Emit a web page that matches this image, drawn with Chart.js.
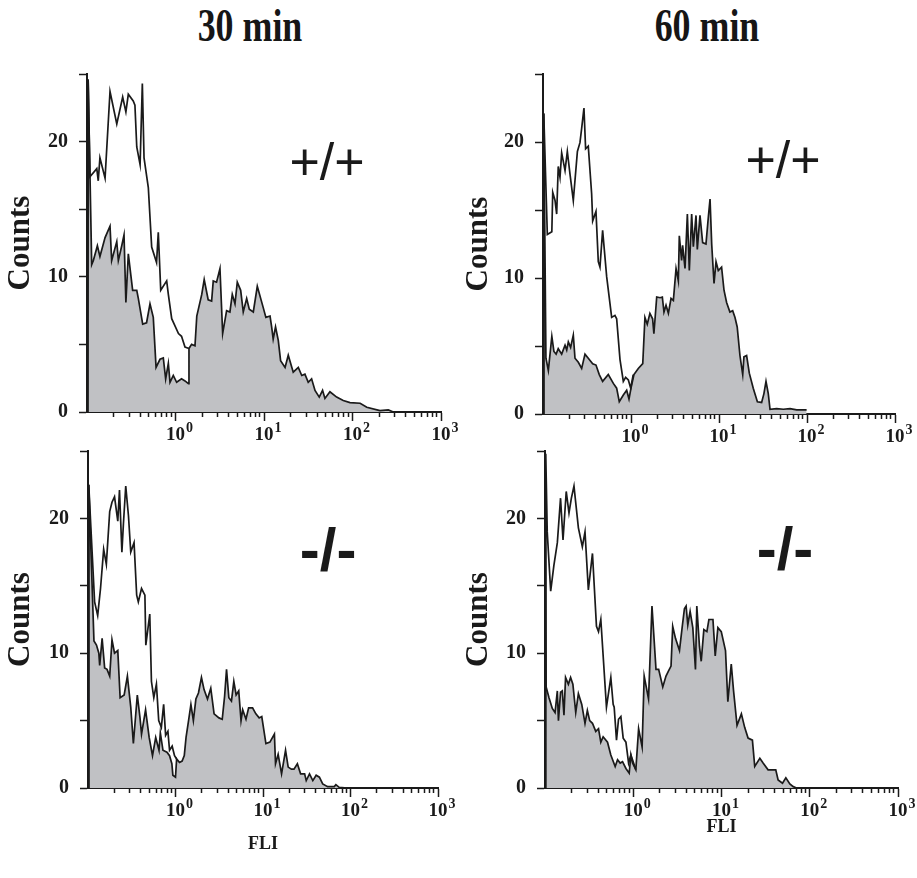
<!DOCTYPE html>
<html><head><meta charset="utf-8">
<script src="https://cdn.jsdelivr.net/npm/chart.js@4.4.1/dist/chart.umd.min.js"></script>
<style>
html,body{margin:0;padding:0;background:#fff;overflow:hidden;}
#wrap{position:relative;width:917px;height:878px;}
canvas{position:absolute;}
.ttl{position:absolute;top:3px;width:200px;text-align:center;font-weight:bold;font-family:'Liberation Serif',serif;font-size:46px;line-height:46px;transform:scaleX(0.78);color:#161616;}
</style></head>
<body><div id="wrap">
<div class="ttl" id="t1" style="left:150px"></div>
<div class="ttl" id="t2" style="left:607px"></div>
<canvas id="c1" width="458" height="452" style="left:0;top:0"></canvas>
<canvas id="c2" width="459" height="452" style="left:458px;top:0"></canvas>
<canvas id="c3" width="458" height="448" style="left:0;top:430px"></canvas>
<canvas id="c4" width="459" height="448" style="left:458px;top:430px"></canvas>
</div>
<script>
// ---------- data ----------
const panelTitles = ['30 min', '60 min'];
const genotypes = ['+/+', '+/+', '-/-', '-/-'];
const xMajorTicks = [1, 10, 100, 1000];
const xTickExponents = ['0', '1', '2', '3'];
const xMinorTicks = [0.2,0.3,0.4,0.5,0.6,0.7,0.8,0.9,2,3,4,5,6,7,8,9,20,30,40,50,60,70,80,90,200,300,400,500,600,700,800,900];
const yLabelledTicks = [0, 10, 20];

// 30 min, +/+
const p1WhiteX = [0.102,0.103,0.108,0.129,0.134,0.140,0.160,0.182,0.217,0.253,0.275,0.293,0.333,0.348,0.365,0.398,0.422,0.441,0.493,0.538,0.611,0.639,0.681,0.795,0.830,0.906,1.08,1.17,1.28,1.42];
const p1WhiteY = [0,24.6,17.4,18.0,17.1,18.8,17.3,23.7,21.3,23.3,22.2,23.5,23.0,22.7,19.6,18.3,24.3,18.8,16.6,12.2,11.05,13.3,9.0,9.7,8.7,6.9,5.8,5.6,4.8,4.7];
const p1GreyX = [0.102,0.103,0.113,0.118,0.131,0.140,0.160,0.182,0.190,0.217,0.226,0.247,0.262,0.275,0.293,0.328,0.365,0.380,0.426,0.471,0.515,0.561,0.603,0.668,0.728,0.774,0.830,0.867,0.944,1.03,1.17,1.28,1.40,1.42,1.52,1.66,1.74,1.98,2.11,2.34,2.56,2.67,2.91,3.18,3.41,3.78,4.12,4.38,4.70,4.99,5.45,5.83,6.37,6.82,7.57,8.40,9.82,10.5,11.7,12.2,12.7,13.5,14.5,15.4,17.3,18.8,21.4,24.4,26.7,29.0,31.6,34.5,37.7,42.1,45.9,48.8,55.6,66.2,78.6,93.7,122,145,204,254,289];
const p1GreyY = [0,24.6,10.9,11.2,12.3,11.5,12.9,13.75,11.2,12.6,11.2,12.3,13.1,8.1,11.7,9.0,9.0,8.4,6.5,6.6,8.0,7.0,3.3,3.9,4.0,2.45,3.6,2.2,2.7,2.2,2.45,2.3,2.1,4.7,5.0,4.9,7.1,8.7,9.8,8.3,8.2,9.7,9.6,10.6,5.8,7.5,7.4,8.7,8.0,9.6,9.0,7.4,8.4,7.6,7.4,9.3,7.7,7.0,7.1,6.3,5.4,6.3,5.3,3.8,3.3,4.2,2.95,3.3,2.7,2.8,2.2,2.45,1.6,1.1,1.6,1.0,1.5,1.1,0.85,0.7,0.65,0.35,0.1,0.15,0];

// 60 min, +/+
const p2WhiteX = [0.101,0.102,0.112,0.126,0.129,0.137,0.143,0.149,0.156,0.163,0.178,0.189,0.203,0.221,0.246,0.263,0.275,0.292,0.305,0.327,0.357,0.367,0.400,0.425,0.444,0.476,0.529,0.603,0.657,0.687,0.750,0.818,0.869,0.933,0.991,1.06];
const p2WhiteY = [0,22.1,13.2,13.4,16.3,15.7,14.7,18.2,17.4,19.2,17.9,19.3,17.6,15.7,19.3,19.95,21.0,22.5,19.5,19.7,16.2,14.2,14.9,11.2,10.8,13.5,10.1,7.1,7.25,7.0,4.0,2.4,2.7,2.5,1.9,2.9];
const p2GreyX = [0.101,0.102,0.108,0.115,0.126,0.133,0.141,0.149,0.163,0.178,0.186,0.194,0.206,0.221,0.231,0.252,0.275,0.300,0.327,0.367,0.400,0.436,0.476,0.552,0.630,0.687,0.736,0.818,0.893,0.949,1.00,1.08,1.21,1.36,1.44,1.53,1.64,1.76,1.82,1.96,2.14,2.27,2.37,2.50,2.66,2.85,3.03,3.25,3.45,3.54,3.76,3.86,4.11,4.37,4.60,4.89,5.11,5.48,5.67,6.08,6.52,7.11,7.57,7.91,8.26,8.78,9.25,9.82,10.7,11.4,12.2,13.3,14.3,15.2,16.1,17.3,18.6,19.2,20.6,22.1,24.5,27.3,30.5,32.4,34.2,36.3,38.0,45.2,53.8,64.1,76.4,99.0];
const p2GreyY = [0,22.1,4.1,3.2,5.7,4.6,4.4,4.8,4.4,5.05,4.7,5.3,4.9,5.8,4.1,3.8,3.35,4.4,4.1,3.7,3.6,2.9,2.4,2.9,2.25,1.9,0.9,1.4,1.75,1.1,1.9,2.9,3.35,3.7,7.1,6.6,7.4,7.0,5.9,8.6,8.55,8.6,7.5,8.0,7.4,8.5,8.35,10.7,9.8,13.1,11.3,12.4,10.7,14.7,10.55,14.7,12.3,14.6,12.1,14.6,12.6,12.5,14.5,15.8,12.5,9.6,11.2,10.55,10.8,9.1,8.2,7.5,7.6,7.1,6.4,4.3,2.9,4.2,4.3,3.0,1.9,0.9,0.85,1.5,2.4,1.5,0.35,0.4,0.35,0.4,0.3,0.3];

// 30 min, -/-
const p3WhiteX = [0.101,0.102,0.119,0.129,0.139,0.151,0.162,0.177,0.188,0.201,0.219,0.229,0.244,0.254,0.270,0.290,0.308,0.336,0.360,0.376,0.409,0.447,0.458,0.508,0.531,0.565,0.605,0.643,0.689,0.732,0.771,0.819,0.855,0.916,0.975,1.03];
const p3WhiteY = [0,22.5,13.8,12.8,14.8,17.7,16.6,20.5,21.2,21.6,19.8,22.1,17.5,19.6,22.4,20.2,17.5,18.2,14.3,13.8,14.8,14.3,10.6,12.9,7.9,6.7,7.7,5.0,4.5,6.2,3.9,4.2,2.8,3.1,2.4,2.15];
const p3GreyX = [0.101,0.102,0.117,0.125,0.133,0.136,0.145,0.155,0.165,0.177,0.188,0.201,0.219,0.233,0.259,0.282,0.308,0.330,0.366,0.393,0.409,0.455,0.500,0.546,0.594,0.648,0.671,0.719,0.798,0.855,0.909,0.933,1.00,1.03,1.11,1.19,1.26,1.32,1.41,1.50,1.60,1.71,1.83,1.98,2.12,2.32,2.53,2.76,3.14,3.42,3.64,3.83,4.07,4.36,4.64,4.93,5.28,5.61,5.86,6.39,6.85,7.60,8.29,9.04,9.68,10.8,12.0,13.5,13.9,14.9,16.3,18.1,19.4,21.1,22.6,24.7,26.9,29.9,31.2,34.0,37.1,40.5,44.1,48.1,54.8,65.2,68.1,74.2,92.2];
const p3GreyY = [0,22.5,10.9,10.6,10.0,9.1,11.1,8.9,8.8,8.3,11.0,10.0,10.2,6.7,6.9,8.3,6.0,3.3,6.9,5.2,4.0,5.8,3.75,2.4,3.75,2.8,4.1,2.8,2.65,2.4,1.8,0.95,0.8,2.15,1.9,2.0,2.4,3.75,5.0,6.2,5.0,6.6,7.05,8.2,7.3,6.6,7.4,5.5,5.2,5.1,6.8,8.8,6.7,6.45,7.9,6.9,7.2,5.0,5.8,5.1,5.95,5.95,5.5,5.2,5.3,3.3,3.4,4.0,1.8,2.5,1.05,2.8,1.55,1.4,1.4,1.8,1.05,1.05,0.55,1.05,0.55,0.95,0.8,0.3,0.1,0.1,0.25,0.05,0];

// 60 min, -/-
const p4WhiteX = [0.101,0.102,0.106,0.116,0.126,0.138,0.150,0.160,0.174,0.187,0.199,0.213,0.239,0.265,0.284,0.310,0.345,0.383,0.404,0.429,0.497,0.557,0.592,0.608,0.646,0.681,0.724,0.769,0.826,0.885,0.940,1.07];
const p4WhiteY = [0,24.8,19.0,14.6,16.5,18.2,21.5,18.4,22.0,20.4,21.5,22.4,19.3,17.9,19.0,14.7,17.4,12.0,11.6,12.5,6.0,8.2,6.2,6.0,3.55,5.1,5.3,3.7,3.4,1.85,2.45,1.35];
const p4GreyX = [0.100,0.101,0.103,0.111,0.121,0.130,0.138,0.142,0.150,0.157,0.164,0.171,0.184,0.195,0.207,0.223,0.239,0.261,0.284,0.302,0.321,0.345,0.376,0.404,0.429,0.456,0.511,0.557,0.624,0.664,0.711,0.756,0.826,0.900,0.940,0.982,1.07,1.15,1.26,1.33,1.49,1.63,1.81,1.94,2.16,2.35,2.52,2.68,2.80,3.01,3.34,3.58,3.80,3.97,4.15,4.41,4.73,5.07,5.25,5.63,5.89,6.31,6.83,7.20,8.00,8.49,9.10,9.94,11.1,11.8,12.9,13.7,15.0,16.8,18.3,20.0,22.4,23.8,27.2,29.6,33.7,37.8,41.2,43.8,49.1,53.6,59.5,65.0,70.8];
const p4GreyY = [0,22.3,7.5,6.7,5.9,5.6,7.2,5.0,7.1,7.2,5.4,8.2,7.7,8.2,7.7,5.6,7.0,6.2,4.8,5.75,5.0,4.8,4.2,4.4,3.4,3.8,3.4,2.45,1.6,2.1,1.85,1.95,1.45,1.1,2.45,1.85,1.35,4.4,3.05,8.3,6.6,13.5,8.8,8.8,7.5,8.3,8.7,9.05,12.0,11.1,10.2,11.9,13.3,13.5,12.1,13.1,11.9,8.8,13.5,10.5,9.4,11.75,11.6,12.5,12.5,9.8,11.9,11.6,10.2,6.4,9.2,7.2,4.65,5.5,4.5,3.7,3.55,1.6,2.2,1.85,1.35,1.35,1.35,0.6,0.35,0.75,0.3,0.1,0];

// ---------- styling / layout ----------
const SERIF = "'Liberation Serif', 'Times New Roman', serif";
const SANS = "'Liberation Sans', Arial, sans-serif";
const INK = '#1a1a1a';
const GREY = '#c0c1c4';

document.getElementById('t1').textContent = panelTitles[0];
document.getElementById('t2').textContent = panelTitles[1];

const panels = [
  {id:'c1', white:[p1WhiteX,p1WhiteY], grey:[p1GreyX,p1GreyY], pad:{top:74,right:17,bottom:0,left:0}, yW:87, xH:40, fli:false, fliPad:0, gx:0.678, gy:0.27, bold:false},
  {id:'c2', white:[p2WhiteX,p2WhiteY], grey:[p2GreyX,p2GreyY], pad:{top:74,right:22,bottom:0,left:0}, yW:85, xH:38, fli:false, fliPad:0, gx:0.682, gy:0.265, bold:false},
  {id:'c3', white:[p3WhiteX,p3WhiteY], grey:[p3GreyX,p3GreyY], pad:{top:19,right:20,bottom:0,left:0}, yW:88, xH:90, fli:true, fliPad:23, gx:0.686, gy:0.305, bold:true},
  {id:'c4', white:[p4WhiteX,p4WhiteY], grey:[p4GreyX,p4GreyY], pad:{top:20,right:19,bottom:0,left:0}, yW:87, xH:90, fli:true, fliPad:40, gx:0.68, gy:0.30, bold:true}
];

const panelDecor = {
  id: 'panelDecor',
  afterDraw(chart, args, opts) {
    const {ctx, chartArea} = chart;
    const xs = chart.scales.x;
    ctx.save();
    ctx.fillStyle = INK;
    const base = chartArea.bottom + 28;
    xMajorTicks.forEach((v, i) => {
      const px = xs.getPixelForValue(v);
      ctx.font = 'bold 19px ' + SERIF;
      ctx.textAlign = 'center';
      ctx.textBaseline = 'alphabetic';
      ctx.fillText('10', px, base);
      const w = ctx.measureText('10').width;
      ctx.font = 'bold 14px ' + SERIF;
      ctx.textAlign = 'left';
      ctx.fillText(xTickExponents[i], px + w / 2 + 1, base - 8);
    });
    ctx.font = opts.bold ? 'bold 60px ' + SANS : '52px ' + SANS;
    ctx.textAlign = 'center';
    ctx.textBaseline = 'middle';
    ctx.fillText(opts.text, chartArea.left + opts.gx * (chartArea.right - chartArea.left),
                 chartArea.top + opts.gy * (chartArea.bottom - chartArea.top));
    ctx.restore();
  }
};

function pts(xs, ys) { return xs.map((x, i) => ({x: x, y: ys[i]})); }

panels.forEach((P, k) => {
  new Chart(document.getElementById(P.id), {
    type: 'line',
    data: {
      datasets: [
        {data: pts(P.white[0], P.white[1]), borderColor: INK, borderWidth: 1.7, fill: false, pointRadius: 0, tension: 0},
        {data: pts(P.grey[0], P.grey[1]), borderColor: INK, borderWidth: 1.7, backgroundColor: GREY, fill: 'origin', pointRadius: 0, tension: 0}
      ]
    },
    options: {
      responsive: false,
      animation: false,
      events: [],
      layout: {padding: P.pad},
      plugins: {
        legend: {display: false},
        tooltip: {enabled: false},
        panelDecor: {text: genotypes[k], gx: P.gx, gy: P.gy, bold: P.bold}
      },
      scales: {
        x: {
          type: 'logarithmic', min: 0.1, max: 1000,
          afterBuildTicks: s => {
            s.ticks = xMinorTicks.concat(xMajorTicks).sort((a, b) => a - b)
              .map(v => ({value: v, major: xMajorTicks.includes(v)}));
          },
          afterFit: s => { s.height = P.xH; },
          ticks: {display: false},
          grid: {
            drawOnChartArea: false, drawTicks: true, tickLength: 9, tickWidth: 1.5, tickColor: INK,
            tickBorderDash: c => (c.tick && xMajorTicks.includes(c.tick.value)) ? [] : [4, 20]
          },
          border: {display: true, color: INK, width: 2},
          title: {display: P.fli, text: 'FLI', color: INK,
                  font: {family: SERIF, weight: 'bold', size: 18},
                  padding: {top: 0, bottom: P.fliPad}}
        },
        y: {
          type: 'linear', min: 0, max: 25,
          afterFit: s => { s.width = P.yW; },
          ticks: {
            stepSize: 5, padding: 9, color: INK,
            font: {family: SERIF, weight: 'bold', size: 20},
            callback: v => yLabelledTicks.includes(v) ? String(v) : ''
          },
          grid: {drawOnChartArea: false, tickLength: 10, tickWidth: 1.5, tickColor: INK,
                 tickBorderDash: [8, 2], tickBorderDashOffset: 8},
          border: {display: true, color: INK, width: 2},
          title: {display: true, text: 'Counts', color: INK,
                  font: {family: SERIF, weight: 'bold', size: 31},
                  padding: {top: 2, bottom: 0}}
        }
      }
    },
    plugins: [panelDecor]
  });
});
</script>
</body></html>
